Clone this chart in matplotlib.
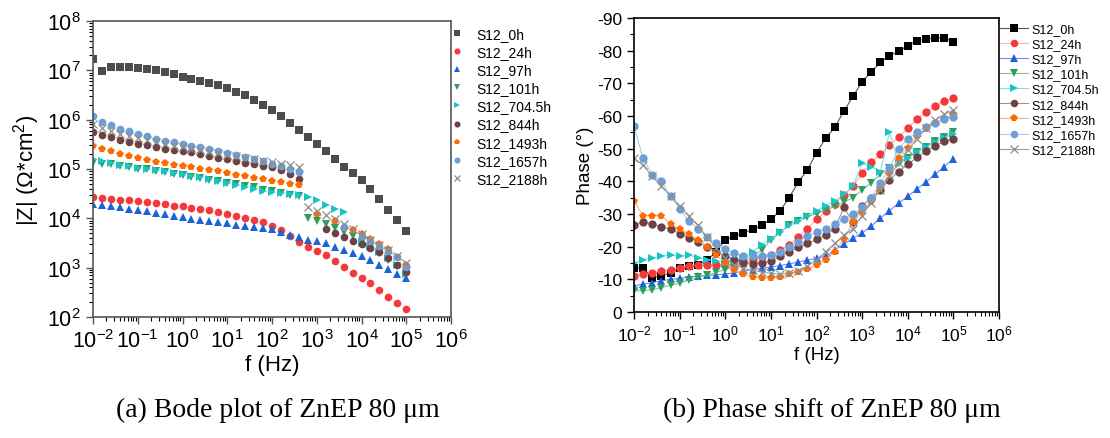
import numpy as np
import matplotlib
matplotlib.use("Agg")
import matplotlib.pyplot as plt
from matplotlib.ticker import LogLocator, NullFormatter, MultipleLocator

nan = np.nan

# frequency grid (Hz), read at 5 points per decade
FREQ = [0.01, 0.0158, 0.0251, 0.0398, 0.0631, 0.1, 0.158, 0.251, 0.398, 0.631,
        1, 1.58, 2.51, 3.98, 6.31, 10, 15.8, 25.1, 39.8, 63.1,
        100, 158, 251, 398, 631, 1000, 1580, 2510, 3980, 6310,
        10000, 15800, 25100, 39800, 63100, 100000]

LABELS = ["S12_0h", "S12_24h", "S12_97h", "S12_101h", "S12_704.5h",
          "S12_844h", "S12_1493h", "S12_1657h", "S12_2188h"]

# |Z| (Ohm*cm^2)
Z_0H = [1.66e7, 9.5e6, 1.15e7, 1.17e7, 1.15e7, 1.12e7, 1.07e7, 1.0e7, 9.3e6, 8.5e6,
        7.4e6, 6.8e6, 6.2e6, 5.6e6, 5.0e6, 4.4e6, 3.7e6, 3.1e6, 2.5e6, 2.0e6,
        1.55e6, 1.17e6, 8.7e5, 6.3e5, 4.5e5, 3.2e5, 2.3e5, 1.6e5, 1.12e5, 8.3e4,
        5.9e4, 3.9e4, 2.5e4, 1.5e4, 9.1e3, 5.5e3]
Z_24H = [2.7e4, 2.63e4, 2.5e4, 2.4e4, 2.3e4, 2.24e4, 2.14e4, 2.04e4, 1.95e4, 1.82e4,
         1.74e4, 1.62e4, 1.55e4, 1.45e4, 1.32e4, 1.2e4, 1.1e4, 1.0e4, 9.1e3, 8.5e3,
         7.1e3, 5.8e3, 4.3e3, 3.3e3, 2.6e3, 2.2e3, 1.8e3, 1.35e3, 1.05e3, 7.9e2,
         6.3e2, 4.8e2, 3.5e2, 2.6e2, 1.95e2, 1.45e2]
Z_97H = [1.95e4, 1.86e4, 1.78e4, 1.7e4, 1.58e4, 1.51e4, 1.38e4, 1.29e4, 1.2e4, 1.12e4,
         1.05e4, 9.8e3, 9.3e3, 8.9e3, 8.5e3, 7.9e3, 7.4e3, 7.1e3, 6.8e3, 6.5e3,
         6.0e3, 5.2e3, 4.6e3, 4.1e3, 3.7e3, 3.4e3, 3.1e3, 2.6e3, 2.3e3, 2.0e3,
         1.7e3, 1.41e3, 1.15e3, 9.3e2, 7.6e2, 6.2e2]
Z_101H = [1.32e5, 1.29e5, 1.26e5, 1.17e5, 1.1e5, 1.02e5, 9.8e4, 9.1e4, 8.5e4, 7.9e4,
          7.4e4, 6.9e4, 6.5e4, 6.0e4, 5.6e4, 5.2e4, 4.9e4, 4.6e4, 4.3e4, 3.8e4,
          3.5e4, 3.2e4, 2.95e4, 2.9e4, 1.0e4, 8.7e3, 7.6e3, 6.5e3, 5.4e3, 4.3e3,
          3.3e3, 2.6e3, 1.95e3, 1.45e3, 1.1e3, 8.1e2]
Z_704H = [1.58e5, 1.48e5, 1.32e5, 1.23e5, 1.15e5, 1.07e5, 1.02e5, 9.5e4, 8.9e4, 8.3e4,
          7.8e4, 7.2e4, 6.8e4, 6.3e4, 5.8e4, 5.2e4, 4.8e4, 4.3e4, 3.9e4, 3.5e4,
          3.4e4, 3.2e4, 3.1e4, 2.95e4, 2.75e4, 2.35e4, 1.9e4, 1.55e4, 1.32e4, nan,
          3.2e3, 2.6e3, 2.1e3, 1.58e3, 1.12e3, 7.6e2]
Z_844H = [5.6e5, 4.8e5, 4.4e5, 3.9e5, 3.5e5, 3.2e5, 3.0e5, 2.8e5, 2.6e5, 2.4e5,
          2.3e5, 2.2e5, 2.0e5, 1.86e5, 1.7e5, 1.58e5, 1.48e5, 1.35e5, 1.26e5, 1.17e5,
          1.1e5, 9.5e4, 7.9e4, 6.3e4, nan, nan, 6.0e3, 5.0e3, 4.2e3, 3.5e3,
          3.0e3, 2.45e3, 2.05e3, 1.58e3, 1.15e3, 8.1e2]
Z_1493H = [2.95e5, 2.6e5, 2.3e5, 2.05e5, 1.82e5, 1.66e5, 1.51e5, 1.41e5, 1.32e5, 1.23e5,
           1.15e5, 1.1e5, 1.02e5, 9.5e4, 8.9e4, 8.3e4, 7.6e4, 7.1e4, 6.6e4, 6.2e4,
           5.8e4, 5.4e4, 5.0e4, 4.7e4, nan, 1.2e4, nan, 8.7e3, nan, 5.8e3,
           4.8e3, 3.8e3, 3.0e3, 2.35e3, 1.66e3, 1.12e3]
Z_1657H = [1.2e6, 9.1e5, 7.8e5, 6.6e5, 5.8e5, 5.1e5, 4.6e5, 4.1e5, 3.7e5, 3.5e5,
           3.2e5, 2.95e5, 2.75e5, 2.5e5, 2.35e5, 2.15e5, 1.95e5, 1.74e5, 1.58e5, 1.45e5,
           1.29e5, 1.15e5, 1.0e5, 8.7e4, nan, nan, nan, nan, 6.8e3, nan,
           4.3e3, 3.5e3, 2.75e3, 2.15e3, 1.62e3, 1.02e3]
Z_2188H = [8.3e5, 6.9e5, 5.9e5, 5.1e5, 4.6e5, 4.2e5, 3.8e5, 3.5e5, 3.2e5, 2.95e5,
           2.75e5, 2.6e5, 2.4e5, 2.25e5, 2.1e5, 1.95e5, 1.82e5, 1.7e5, 1.58e5, 1.48e5,
           1.38e5, 1.29e5, 1.2e5, 1.12e5, 1.66e4, 1.41e4, 1.17e4, 9.5e3, 7.6e3, 6.0e3,
           4.8e3, 3.7e3, 2.9e3, 2.3e3, 1.74e3, 1.26e3]

# phase (deg)
P_0H = [-13.5, -13.5, -10.5, -11, -12, -13.5, -14, -14.3, -16, -18.3,
        -22, -23.2, -24.2, -25.3, -26.5, -28.4, -30.9, -35, -39.7, -43.5,
        -48.7, -53.2, -56.5, -61.5, -66, -70.5, -73.5, -76.4, -78.5, -79.8,
        -81.5, -83.1, -83.5, -84, -83.8, -82.8]
P_24H = [-11, -11.5, -12, -12.5, -13, -13.5, -14, -14.3, -14.3, -14.5,
         -14.5, -14.5, -15, -16, -16.8, -17.5, -19, -20.5, -23, -25.5,
         -28.4, -30.8, -33.2, -35.8, -38.5, -42.5, -45.8, -48.3, -51, -53.5,
         -56.3, -59, -61.2, -63, -64.5, -65.5]
P_97H = [-8, -8.5, -9, -9.5, -10, -10.3, -10.7, -11, -11.2, -11.4,
         -11.6, -12, -12.5, -13, -13.4, -13.8, -14.2, -14.7, -15.3, -15.9,
         -16.4, -17.1, -19, -20.8, -22.6, -24.2, -26.3, -28.7, -31, -33.3,
         -35.4, -37.6, -39.8, -42.1, -44.5, -46.9]
P_101H = [-6.5, -6.5, -6.8, -7.5, -8.2, -8.8, -9.8, -10.6, -11.3, -12.1,
          -13, -14, -15.3, -17, -19, -22, -24.2, -26.5, -28, -29.2,
          -30.1, -31.2, -32.3, -33.6, -35, -37.3, -39.6, -42.1, -44, -45.7,
          -47.2, -48.9, -50.6, -52.2, -53.6, -55]
P_704H = [-15, -16, -16.5, -17, -17.5, -17, -17.5, -16.5, -16, -15.5,
          -15.3, -15.5, -16.5, -18.5, -20.5, -22.5, -24.5, -26.5, -28, -29.5,
          -31, -32.5, -34, -36, -38.5, -45.5, -44.5, -43, -55, -45.5,
          -47, -49, -50.5, -52, -53.3, -54.5]
P_844H = [-26.5, -27.5, -27, -26, -25.5, -24, -22.8, -21.5, -20, -18.5,
          -17, -16, -15.2, -14.8, -15, -15.5, -17, -18.5, -19.8, -21,
          -22.2, -23.5, -25.5, -32, -27.5, -32.5, -35, -37.5, -40.5, -43,
          -45.2, -47.3, -49.2, -50.9, -52.2, -53]
P_1493H = [-34, -29.5, -29.5, -29.5, -27, -25.5, -24, -22, -20, -17.5,
           -15, -13, -11.6, -10.8, -10.4, -10.3, -10.8, -11.5, -12.3, -13.2,
           -14.3, -16, -18.5, -22.5, -27.5, -30.5, -33.8, -38, -42.5, -47,
           -50.3, -53.8, -56, -57.8, -59.2, -60.6]
P_1657H = [-57, -47, -42, -40, -35.5, -31.5, -28, -25.5, -23, -21,
           -19.2, -18, -17.2, -17, -17, -17.3, -18.5, -19.8, -21.5, -23.3,
           -24.5, -25.5, -26.8, -28.5, -30, -32, -35, -39.5, -44, -50,
           -53, -55, -56.5, -57.8, -59, -59.7]
P_2188H = [-47, -45, -41.5, -38.5, -35.5, -32.5, -29.5, -26.5, -23, -19.5,
           -16.5, -14.5, -13.3, -12.8, -12.2, -11.8, -11.6, -11.8, -12.5, -14,
           -16, -18.5, -21, -23.5, -25.5, -29.5, -33.5, -37.5, -41.5, -45.5,
           -49.5, -53, -56.3, -58.8, -60.5, -61.8]

Z_ALL = [Z_0H, Z_24H, Z_97H, Z_101H, Z_704H, Z_844H, Z_1493H, Z_1657H, Z_2188H]
P_ALL = [P_0H, P_24H, P_97H, P_101H, P_704H, P_844H, P_1493H, P_1657H, P_2188H]

MARKERS = ["s", "o", "^", "v", ">", "o", "p", "o", "x"]
COLORS = ["#4d4d4d", "#f5393a", "#1a63db", "#2e9e5b", "#19c4c4",
          "#6e4142", "#ff6a00", "#6b9fd6", "#8c8c8c"]
LINE_COLORS = ["#555555", "#ffb3b3", "#8080ff", "#80c4a0", "#80e0e0",
               "#b08a8a", "#ffb380", "#b0cbe8", "#a0a0a0"]

plt.rcParams["font.family"] = ["Liberation Sans", "DejaVu Sans"]
plt.rcParams["mathtext.default"] = "regular"
plt.rcParams["axes.unicode_minus"] = False


def style_logx(ax, size):
    ax.set_xscale("log")
    ax.set_xlim(1e-2, 1e6)
    ax.xaxis.set_major_locator(LogLocator(base=10, numticks=20))
    ax.xaxis.set_minor_locator(LogLocator(base=10, subs=np.arange(2, 10), numticks=20))
    ax.xaxis.set_minor_formatter(NullFormatter())
    ax.tick_params(axis="both", which="both", direction="out", top=False, right=False,
                   labelsize=size)
    ax.tick_params(which="major", length=5, width=1)
    ax.tick_params(which="minor", length=3, width=0.8)


def main():
    fig = plt.figure(figsize=(11.10, 4.39), dpi=100)

    # --- (a) Bode |Z| ---
    ax1 = fig.add_axes([93 / 1110, 1 - 318 / 439, 358 / 1110, 296 / 439])
    for z, lab, m, c in zip(Z_ALL, LABELS, MARKERS, COLORS):
        kw = dict(markeredgewidth=0.9) if m == "x" else dict(markeredgewidth=0)
        ax1.plot(FREQ, z, linestyle="none", marker=m, color=c, markersize=5.5,
                 label=lab, **kw)
    style_logx(ax1, 15.5)
    ax1.set_yscale("log")
    ax1.set_ylim(1e2, 1e8)
    ax1.yaxis.set_major_locator(LogLocator(base=10, numticks=20))
    ax1.yaxis.set_minor_locator(LogLocator(base=10, subs=np.arange(2, 10), numticks=20))
    ax1.yaxis.set_minor_formatter(NullFormatter())
    for s in ax1.spines.values():
        s.set_color("#555555")
        s.set_linewidth(1.2)
    ax1.tick_params(colors="#555555", labelcolor="black")
    ax1.set_xlabel("f (Hz)", fontsize=16, labelpad=2)
    ax1.set_ylabel("|Z| (Ω*cm$^2$)", fontsize=16, labelpad=4)
    ax1.legend(loc="upper left", bbox_to_anchor=(0.989, 1.0), borderaxespad=0,
               frameon=False, fontsize=10, handlelength=0.6, handletextpad=1.1,
               labelspacing=0.3, markerscale=0.8)

    # --- (b) phase ---
    ax2 = fig.add_axes([634 / 1110, 1 - 313 / 439, 365 / 1110, 294 / 439])
    for p, lab, m, c, lc in zip(P_ALL, LABELS, MARKERS, COLORS, LINE_COLORS):
        mc = "black" if lab == "S12_0h" else c
        kw = dict(markeredgewidth=0.9) if m == "x" else dict(markeredgewidth=0)
        ax2.plot(FREQ, p, linestyle="-", linewidth=0.8, color=lc, marker=m,
                 markerfacecolor=mc, markeredgecolor=mc, markersize=6, label=lab, **kw)
    style_logx(ax2, 12.5)
    ax2.set_ylim(0, -90)
    ax2.yaxis.set_major_locator(MultipleLocator(10))
    ax2.yaxis.set_minor_locator(MultipleLocator(5))
    for s in ax2.spines.values():
        s.set_linewidth(1.2)
    ax2.set_xlabel("f (Hz)", fontsize=13.5, labelpad=2)
    ax2.set_ylabel("Phase (°)", fontsize=13.5, labelpad=2)
    ax2.legend(loc="upper left", bbox_to_anchor=(0.99, 1.0), borderaxespad=0,
               frameon=False, fontsize=9, handlelength=2.2, handletextpad=0.3,
               labelspacing=0.25, markerscale=0.9)

    # captions
    fig.text(278 / 1110, 1 - 410 / 439, "(a) Bode plot of ZnEP 80 μm", ha="center",
             va="center", family="Liberation Serif", fontsize=20)
    fig.text(832 / 1110, 1 - 410 / 439, "(b) Phase shift of ZnEP 80 μm", ha="center",
             va="center", family="Liberation Serif", fontsize=20)

    fig.savefig("out.png", dpi=100, facecolor="white")


if __name__ == "__main__":
    main()
